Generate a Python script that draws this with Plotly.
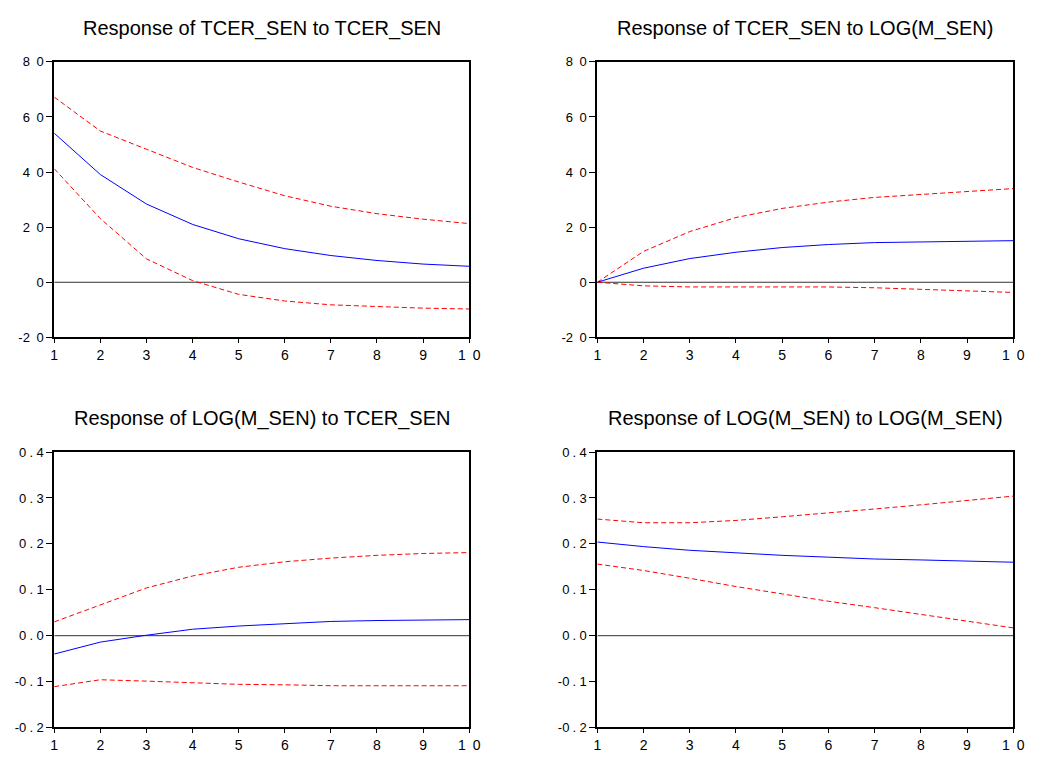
import plotly.graph_objects as go

periods = [1, 2, 3, 4, 5, 6, 7, 8, 9, 10]

titles = [
    "Response of TCER_SEN to TCER_SEN",
    "Response of TCER_SEN to LOG(M_SEN)",
    "Response of LOG(M_SEN) to TCER_SEN",
    "Response of LOG(M_SEN) to LOG(M_SEN)",
]

# Top-left: TCER_SEN -> TCER_SEN
tt_resp = [54.1, 39.1, 28.4, 21.0, 15.8, 12.2, 9.7, 7.9, 6.6, 5.8]
tt_up = [67.2, 54.9, 48.3, 41.7, 36.4, 31.4, 27.6, 24.9, 22.9, 21.3]
tt_lo = [41.2, 23.1, 8.5, 0.6, -4.4, -6.8, -8.2, -8.9, -9.4, -9.7]

# Top-right: TCER_SEN -> LOG(M_SEN)
tm_resp = [0.0, 5.1, 8.6, 10.9, 12.6, 13.7, 14.4, 14.7, 15.0, 15.1]
tm_up = [0.0, 11.2, 18.4, 23.5, 26.8, 29.1, 30.8, 31.9, 33.1, 34.0]
tm_lo = [0.0, -1.3, -1.7, -1.7, -1.5, -1.7, -2.0, -2.5, -3.0, -3.7]

# Bottom-left: LOG(M_SEN) -> TCER_SEN
mt_resp = [-0.040, -0.014, 0.001, 0.014, 0.021, 0.026, 0.031, 0.033, 0.034, 0.035]
mt_up = [0.030, 0.067, 0.104, 0.130, 0.149, 0.161, 0.169, 0.175, 0.179, 0.181]
mt_lo = [-0.111, -0.096, -0.099, -0.103, -0.106, -0.107, -0.109, -0.109, -0.109, -0.109]

# Bottom-right: LOG(M_SEN) -> LOG(M_SEN)
mm_resp = [0.204, 0.194, 0.186, 0.180, 0.175, 0.171, 0.167, 0.165, 0.163, 0.160]
mm_up = [0.254, 0.246, 0.246, 0.251, 0.259, 0.267, 0.276, 0.285, 0.294, 0.304]
mm_lo = [0.156, 0.142, 0.125, 0.107, 0.091, 0.075, 0.061, 0.046, 0.032, 0.017]

SP = "\u2002"   # wide gap between digits (EViews-style letter spacing)
DP = "\u2005"   # gap around decimal point
top_ticks = [-20, 0, 20, 40, 60, 80]
top_ticktext = ["-2" + SP + "0", "0", "2" + SP + "0", "4" + SP + "0", "6" + SP + "0", "8" + SP + "0"]
bot_ticks = [-0.2, -0.1, 0.0, 0.1, 0.2, 0.3, 0.4]
bot_ticktext = [("-" if v < 0 else "") + "0" + DP + "." + DP + str(abs(int(round(v * 10))))
                for v in bot_ticks]
x_ticktext = ["1", "2", "3", "4", "5", "6", "7", "8", "9", "1" + SP + "0"]

panels = [
    (tt_resp, tt_up, tt_lo, [-20, 80], top_ticks, top_ticktext),
    (tm_resp, tm_up, tm_lo, [-20, 80], top_ticks, top_ticktext),
    (mt_resp, mt_up, mt_lo, [-0.2, 0.4], bot_ticks, bot_ticktext),
    (mm_resp, mm_up, mm_lo, [-0.2, 0.4], bot_ticks, bot_ticktext),
]

W, H = 1039, 760
xdoms = [[51 / W, 472 / W], [602 / W, 1024 / W]]
ydoms = [[1 - 337 / H, 1 - 56 / H], [1 - 735 / H, 1 - 454 / H]]

FONT = "Liberation Sans, Arial, sans-serif"

fig = go.Figure()
layout = dict(
    width=W, height=H,
    margin=dict(l=0, r=0, t=0, b=0),
    paper_bgcolor="white", plot_bgcolor="white",
    showlegend=False,
    font=dict(family=FONT, color="black", size=14),
)
annotations = []

for i, (resp, up, lo, yr, yt, ytt) in enumerate(panels):
    row, col = divmod(i, 2)
    n = i + 1
    xa = "x" if n == 1 else f"x{n}"
    ya = "y" if n == 1 else f"y{n}"
    fig.add_trace(go.Scatter(x=periods, y=[0] * len(periods), mode="lines",
                             line=dict(color="#333333", width=1),
                             xaxis=xa, yaxis=ya, hoverinfo="skip"))
    fig.add_trace(go.Scatter(x=periods, y=up, mode="lines",
                             line=dict(color="red", width=1, dash="5px,3px"),
                             xaxis=xa, yaxis=ya))
    fig.add_trace(go.Scatter(x=periods, y=lo, mode="lines",
                             line=dict(color="red", width=1, dash="5px,3px"),
                             xaxis=xa, yaxis=ya))
    fig.add_trace(go.Scatter(x=periods, y=resp, mode="lines",
                             line=dict(color="blue", width=1),
                             xaxis=xa, yaxis=ya))
    xkey = "xaxis" if n == 1 else f"xaxis{n}"
    ykey = "yaxis" if n == 1 else f"yaxis{n}"
    layout[xkey] = dict(
        domain=xdoms[col], anchor=ya, range=[1, 10],
        tickvals=periods, ticktext=x_ticktext,
        ticks="outside", ticklen=4, tickwidth=1, tickcolor="black",
        showline=True, linecolor="black", linewidth=2, mirror=True,
        showgrid=False, zeroline=False,
        tickfont=dict(family=FONT, size=14, color="black"),
    )
    layout[ykey] = dict(
        domain=ydoms[row], anchor=xa, range=yr,
        tickvals=yt, ticktext=ytt,
        ticks="outside", ticklen=6, tickwidth=1, tickcolor="black",
        showline=True, linecolor="black", linewidth=2, mirror=True,
        showgrid=False, zeroline=False,
        tickfont=dict(family=FONT, size=13, color="black"),
    )
    cx = (xdoms[col][0] + xdoms[col][1]) / 2
    ty = 1 - 22 / H if row == 0 else 1 - 420 / H
    annotations.append(dict(text=titles[i], x=cx, y=ty, xref="paper", yref="paper",
                            xanchor="center", yanchor="middle", showarrow=False,
                            font=dict(family=FONT, size=20, color="black")))

layout["annotations"] = annotations
fig.update_layout(**layout)
fig.write_html("out.html", config={"displayModeBar": False},
               post_script="document.body.style.margin='0';document.body.style.overflow='hidden';")
